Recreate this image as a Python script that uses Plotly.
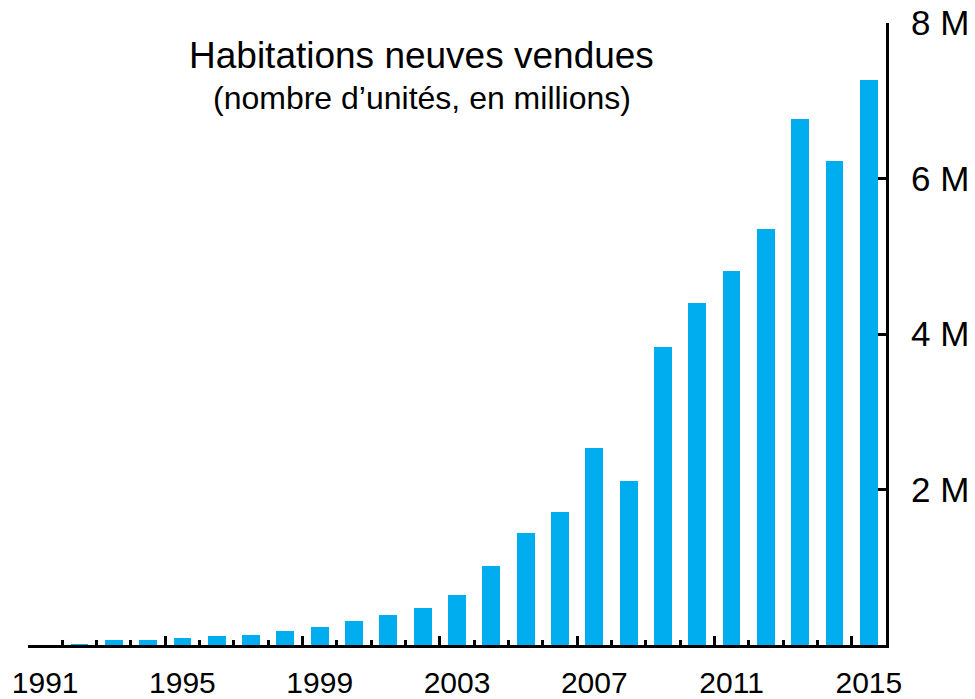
import plotly.graph_objects as go

years = list(range(1991, 2016))
units_millions = [0.0, 0.01, 0.06, 0.06, 0.09, 0.11, 0.13, 0.18, 0.23, 0.31,
                  0.39, 0.48, 0.64, 1.02, 1.44, 1.71, 2.54, 2.11, 3.83, 4.40,
                  4.81, 5.35, 6.76, 6.23, 7.27]
label_years = [1991, 1995, 1999, 2003, 2007, 2011, 2015]
y_tickvals = [2, 4, 6, 8]
y_ticktext = ["2 M", "4 M", "6 M", "8 M"]
title_text = "Habitations neuves vendues"
subtitle_text = "(nombre d’unités, en millions)"

boundaries = [y - 0.5 for y in years] + [years[-1] + 0.5]
major_bounds = [y - 0.5 for y in label_years if y != years[0]]

FONT = "Liberation Sans, Arial, sans-serif"

fig = go.Figure()
fig.add_trace(go.Bar(x=years, y=units_millions, width=0.52,
                     marker=dict(color="#00AEEF", line=dict(width=0)),
                     showlegend=False, hoverinfo="x+y"))
# invisible helper traces on overlay axes (tick marks only)
for ax in ["x2", "x3"]:
    fig.add_trace(go.Scatter(x=[years[0]], y=[0], xaxis=ax, mode="markers",
                             marker=dict(opacity=0), showlegend=False, hoverinfo="skip"))

xr = [years[0] - 0.5, years[-1] + 0.5]
common_overlay = dict(range=xr, overlaying="x", side="bottom", tickmode="array",
                      ticks="inside", tickwidth=3, tickcolor="black",
                      showticklabels=False, showline=False, showgrid=False,
                      zeroline=False, automargin=False)
fig.update_layout(
    width=967, height=691,
    margin=dict(l=20, r=89, t=15, b=54),
    plot_bgcolor="white", paper_bgcolor="white",
    font=dict(family=FONT, color="black"),
    bargap=0,
    xaxis=dict(range=xr, tickmode="array", tickvals=label_years,
               ticktext=[str(y) for y in label_years], ticks="",
               showline=True, linecolor="black", linewidth=3,
               showgrid=False, zeroline=False, automargin=False,
               tickfont=dict(size=30, family=FONT, color="black"),
               ticklabelstandoff=9, ticklabeloverflow="allow"),
    xaxis2=dict(tickvals=boundaries, ticklen=5, **common_overlay),
    xaxis3=dict(tickvals=major_bounds, ticklen=9, **common_overlay),
    yaxis=dict(range=[0, 8], side="right", tickmode="array", tickvals=y_tickvals,
               ticktext=y_ticktext, ticks="inside", ticklen=8, tickwidth=3,
               tickcolor="black", showline=True, linecolor="black", linewidth=3,
               showgrid=False, zeroline=False, automargin=False,
               tickfont=dict(size=35, family=FONT, color="black"),
               ticklabelstandoff=15, ticklabeloverflow="allow"),
    annotations=[
        dict(text=title_text, xref="paper", yref="paper", x=0.459, y=0.948,
             xanchor="center", yanchor="middle", showarrow=False,
             font=dict(size=37, family=FONT, color="black")),
        dict(text=subtitle_text, xref="paper", yref="paper", x=0.459, y=0.879,
             xanchor="center", yanchor="middle", showarrow=False,
             font=dict(size=32, family=FONT, color="black")),
    ],
)

fig.write_html("out.html")
